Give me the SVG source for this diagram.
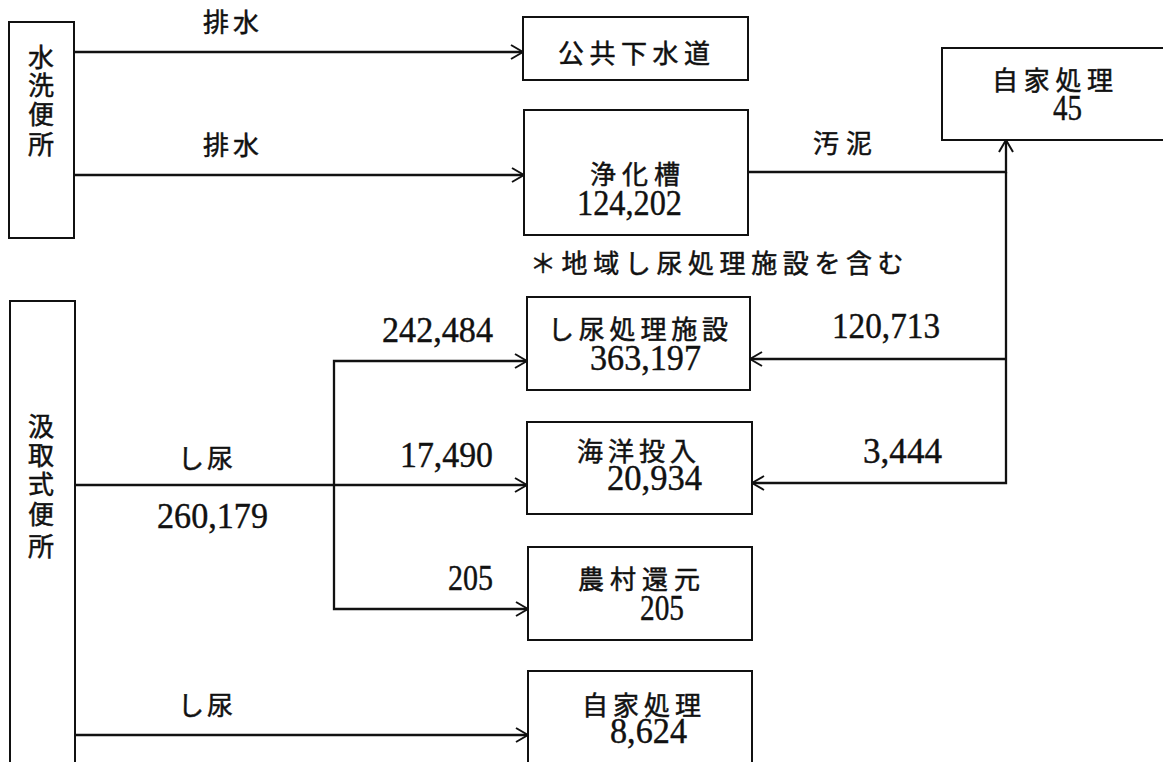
<svg xmlns="http://www.w3.org/2000/svg" width="1163" height="762" viewBox="0 0 1163 762">
<style>
.box{fill:none;stroke:#111;stroke-width:2}
.ln{fill:none;stroke:#111;stroke-width:2.3}
.jp{font-family:"Noto Sans CJK JP","Noto Sans CJK SC",sans-serif;font-size:26px;fill:#111;stroke:#111;stroke-width:0.5}
.num{font-family:"Liberation Serif",serif;font-size:35px;fill:#111;stroke:#111;stroke-width:0.4}
.v{text-anchor:middle}
</style>
<defs>
<marker id="arr" viewBox="0 0 14 16" refX="13" refY="8" markerWidth="14" markerHeight="16" orient="auto" markerUnits="userSpaceOnUse">
<path d="M1,1 L13,8 L1,15" fill="none" stroke="#111" stroke-width="2"/>
</marker>
</defs>
<rect width="1163" height="762" fill="#fff"/>

<g id="connectors">
<path class="ln" d="M74,52 H523" marker-end="url(#arr)"/>
<path class="ln" d="M74,175 H524" marker-end="url(#arr)"/>
<path class="ln" d="M748,172 H1006 V140" marker-end="url(#arr)"/>
<path class="ln" d="M1006,172 V483 H752" marker-end="url(#arr)"/>
<path class="ln" d="M1006,359 H750" marker-end="url(#arr)"/>
<path class="ln" d="M75,485 H527" marker-end="url(#arr)"/>
<path class="ln" d="M334,485 V361 H527" marker-end="url(#arr)"/>
<path class="ln" d="M334,485 V609 H528" marker-end="url(#arr)"/>
<path class="ln" d="M75,735 H528" marker-end="url(#arr)"/>
</g>

<g id="labels">
<text class="jp" x="203" y="31.5" letter-spacing="4">排水</text>
<text class="jp" x="203" y="155" letter-spacing="4">排水</text>
<text class="jp" x="813" y="153" letter-spacing="7">汚泥</text>
<text class="jp" x="530" y="273" font-size="25" letter-spacing="5.6">＊地域し尿処理施設を含む</text>
<text class="num" x="382" y="342" textLength="111" lengthAdjust="spacingAndGlyphs">242,484</text>
<text class="num" x="832" y="338" textLength="108" lengthAdjust="spacingAndGlyphs">120,713</text>
<text class="jp" x="178" y="468" letter-spacing="3">し尿</text>
<text class="num" x="400" y="467" textLength="93" lengthAdjust="spacingAndGlyphs">17,490</text>
<text class="num" x="863" y="463" textLength="79" lengthAdjust="spacingAndGlyphs">3,444</text>
<text class="num" x="157" y="528" textLength="111" lengthAdjust="spacingAndGlyphs">260,179</text>
<text class="num" x="448" y="590" textLength="45" lengthAdjust="spacingAndGlyphs">205</text>
<text class="jp" x="178" y="715" letter-spacing="3">し尿</text>
</g>

<g id="node-suisen">
<rect class="box" x="9" y="22" width="65" height="216"/>
<text class="jp v" x="41" y="67">水</text>
<text class="jp v" x="41" y="95">洗</text>
<text class="jp v" x="41" y="124">便</text>
<text class="jp v" x="41" y="154">所</text>
</g>

<g id="node-kumitori">
<rect class="box" x="10" y="301" width="65" height="480"/>
<text class="jp v" x="41" y="436">汲</text>
<text class="jp v" x="41" y="465">取</text>
<text class="jp v" x="41" y="494">式</text>
<text class="jp v" x="41" y="524">便</text>
<text class="jp v" x="41" y="556">所</text>
</g>

<g id="node-gesuido">
<rect class="box" x="523" y="17" width="225" height="63"/>
<text class="jp" x="558" y="62.5" letter-spacing="5.5">公共下水道</text>
</g>

<g id="node-jokaso">
<rect class="box" x="524" y="110" width="224" height="125"/>
<text class="jp" x="590" y="184" letter-spacing="6">浄化槽</text>
<text class="num" x="577" y="215" textLength="105" lengthAdjust="spacingAndGlyphs">124,202</text>
</g>

<g id="node-jika-top">
<rect class="box" x="942" y="48" width="240" height="92"/>
<text class="jp" x="992" y="90" letter-spacing="5.7">自家処理</text>
<text class="num" x="1053" y="120" textLength="29" lengthAdjust="spacingAndGlyphs">45</text>
</g>

<g id="node-shinyo">
<rect class="box" x="527" y="297" width="223" height="93"/>
<text class="jp" x="548" y="339" letter-spacing="4.8">し尿処理施設</text>
<text class="num" x="590" y="370" textLength="111" lengthAdjust="spacingAndGlyphs">363,197</text>
</g>

<g id="node-kaiyo">
<rect class="box" x="527" y="422" width="225" height="92"/>
<text class="jp" x="577" y="461" letter-spacing="5">海洋投入</text>
<text class="num" x="607" y="490" textLength="95" lengthAdjust="spacingAndGlyphs">20,934</text>
</g>

<g id="node-noson">
<rect class="box" x="528" y="547" width="224" height="93"/>
<text class="jp" x="578" y="589" letter-spacing="6">農村還元</text>
<text class="num" x="640" y="620" textLength="44" lengthAdjust="spacingAndGlyphs">205</text>
</g>

<g id="node-jika-bottom">
<rect class="box" x="528" y="671" width="224" height="110"/>
<text class="jp" x="582" y="715" letter-spacing="5">自家処理</text>
<text class="num" x="610" y="743" textLength="77" lengthAdjust="spacingAndGlyphs">8,624</text>
</g>
</svg>
